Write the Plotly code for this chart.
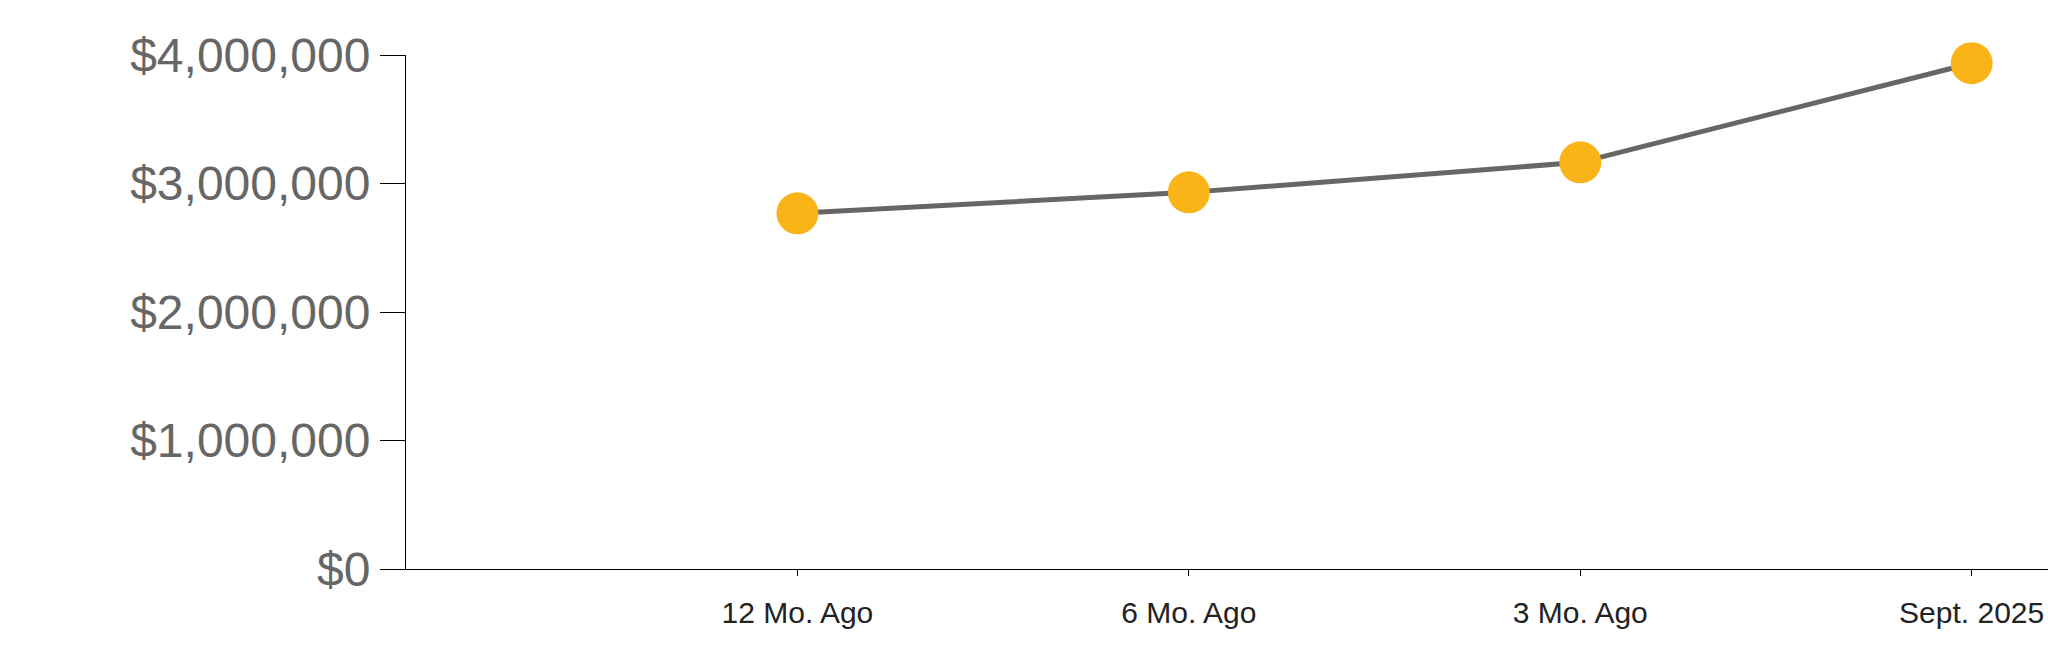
import plotly.graph_objs as go

periods = ["12 Mo. Ago", "6 Mo. Ago", "3 Mo. Ago", "Sept. 2025"]
values = [2768000, 2931000, 3165000, 3936000]
y_ticks = [0, 1000000, 2000000, 3000000, 4000000]

trace = go.Scatter(
    x=periods,
    y=values,
    mode="lines+markers",
    line=dict(color="#666666", width=5),
    marker=dict(color="#FBB418", size=42, line=dict(width=0)),
    cliponaxis=False,
    hoverinfo="x+y",
)

layout = go.Layout(
    width=2048,
    height=663,
    paper_bgcolor="white",
    plot_bgcolor="white",
    margin=dict(l=406, r=0, t=55, b=94),
    showlegend=False,
    font=dict(family="Liberation Sans, Arial, sans-serif"),
)
fig = go.Figure(data=[trace], layout=layout)

fig.update_xaxes(
    type="category",
    range=[-1, 3.195],
    showline=True,
    linewidth=1,
    linecolor="black",
    showgrid=False,
    zeroline=False,
    ticks="outside",
    ticklen=6,
    tickcolor="black",
    tickfont=dict(size=30, color="#222222"),
    ticklabelstandoff=11,
)
fig.update_yaxes(
    range=[0, 4000000],
    tickvals=y_ticks,
    tickformat="$,.0f",
    showline=True,
    linewidth=1,
    linecolor="black",
    showgrid=False,
    zeroline=False,
    ticks="outside",
    ticklen=25,
    tickcolor="black",
    tickfont=dict(size=48, color="#666666"),
)

# drop the default 8px body margin so the figure fills the window exactly
fig.write_html(
    "out.html",
    config={"displayModeBar": False},
    post_script="document.body.style.margin='0';document.body.style.overflow='hidden';",
)
